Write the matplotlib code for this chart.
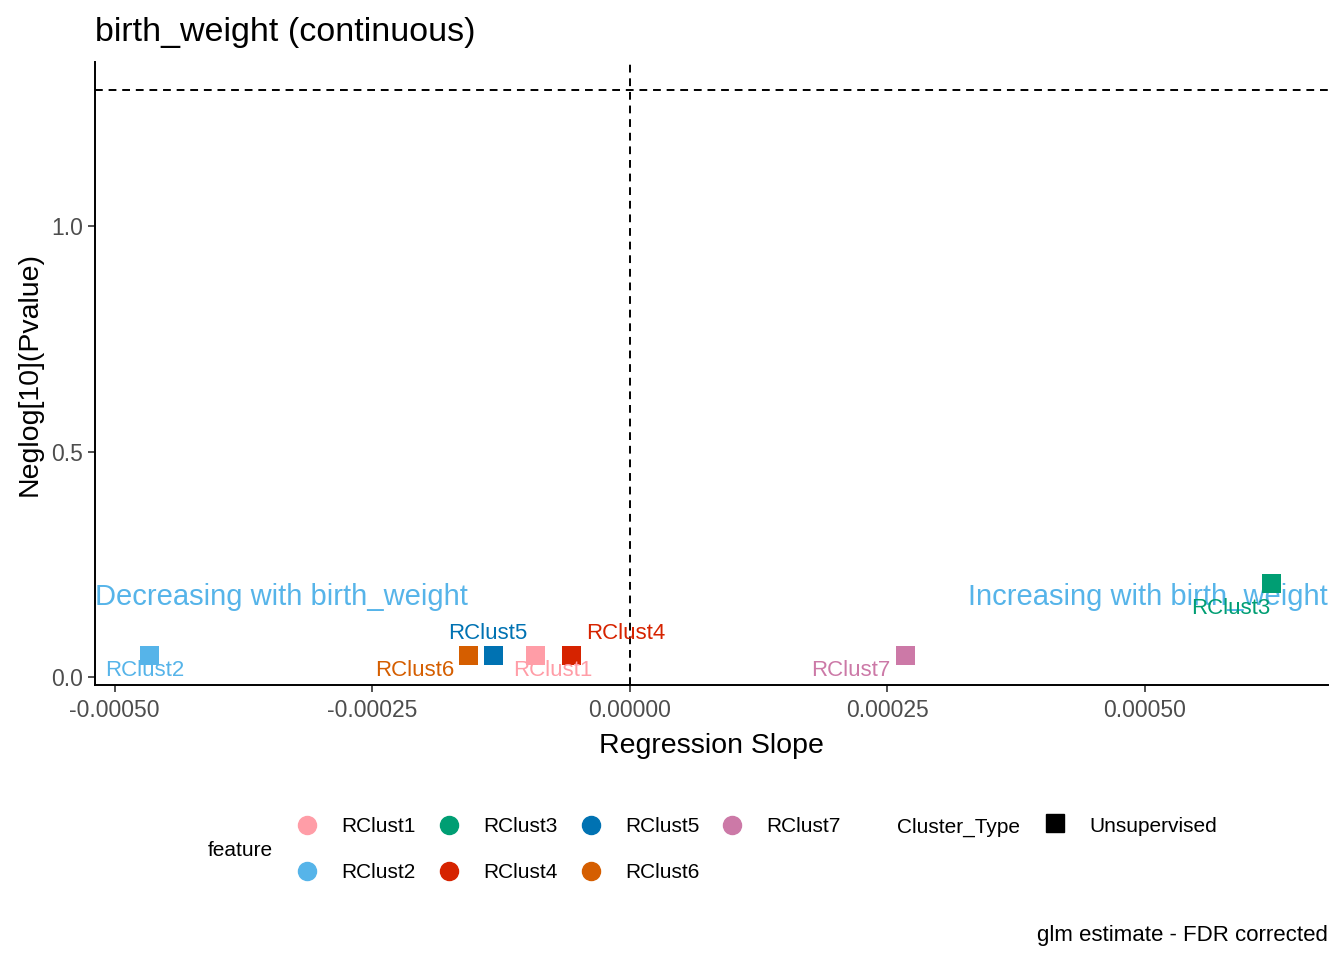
import matplotlib
matplotlib.use("Agg")
import matplotlib.pyplot as plt
from matplotlib.lines import Line2D
import numpy as np

plt.rcParams['font.family'] = ['Liberation Sans', 'DejaVu Sans']

# data
features = ['RClust1', 'RClust2', 'RClust3', 'RClust4', 'RClust5', 'RClust6', 'RClust7']
slope = [-0.0000913, -0.000466, 0.000623, -0.0000563, -0.000132, -0.000156, 0.000268]
neglogp = [0.047, 0.047, 0.208, 0.047, 0.047, 0.047, 0.047]
colors = ['#FF9DA7', '#56B4E9', '#009E73', '#D62300', '#0072B2', '#D55E00', '#CC79A7']
# label offsets (repel-ish), in data units
label_dx = [0.000017, -0.000005, -0.000039, 0.000053, -0.000006, -0.000053, -0.000053]
label_dy = [-0.032, -0.032, -0.057, 0.050, 0.050, -0.032, -0.032]

sig_line = -np.log10(0.05)
xlim = (-0.000519, 0.000678)
ylim = (-0.0177, 1.364)

fig = plt.figure(figsize=(13.44, 9.6), dpi=100)
ax = fig.add_axes([95 / 1344, 1 - 685 / 960, (1328 - 95) / 1344, (685 - 62) / 960])

ax.axhline(sig_line, color='black', lw=1.4, ls=(0, (4, 3)), zorder=1)
ax.axvline(0, color='black', lw=1.4, ls=(0, (4, 3)), zorder=1)

for i, f in enumerate(features):
    ax.scatter(slope[i], neglogp[i], marker='s', s=190, color=colors[i],
               edgecolors='none', zorder=3)
    ax.text(slope[i] + label_dx[i], neglogp[i] + label_dy[i], f, color=colors[i],
            fontsize=16, ha='center', va='center', zorder=4)

ax.text(xlim[0], 0.177, 'Decreasing with birth_weight', color='#56B4E9',
        fontsize=21, ha='left', va='center', zorder=2)
ax.text(xlim[1], 0.177, 'Increasing with birth_weight', color='#56B4E9',
        fontsize=21, ha='right', va='center', zorder=2)

ax.set_xlim(*xlim)
ax.set_ylim(*ylim)
ax.set_xticks([-0.0005, -0.00025, 0.0, 0.00025, 0.0005])
ax.set_xticklabels(['-0.00050', '-0.00025', '0.00000', '0.00025', '0.00050'])
ax.set_yticks([0.0, 0.5, 1.0])
ax.set_yticklabels(['0.0', '0.5', '1.0'])
ax.tick_params(axis='both', labelsize=16.5, labelcolor='#4D4D4D', color='#333333',
               length=5, width=1.2)
ax.tick_params(axis='x', pad=5)
for s in ['top', 'right']:
    ax.spines[s].set_visible(False)
for s in ['left', 'bottom']:
    ax.spines[s].set_linewidth(1.4)
ax.set_xlabel('Regression Slope', fontsize=20.5, labelpad=8)
ax.set_ylabel('Neglog[10](Pvalue)', fontsize=20.5, labelpad=6)

fig.text(95 / 1344, 1 - 32 / 960, 'birth_weight (continuous)', fontsize=24.5,
         ha='left', va='center')
fig.text(1328 / 1344, 1 - 935 / 960, 'glm estimate - FDR corrected', fontsize=16,
         ha='right', va='center')

# legend, laid out like ggplot's bottom legend
fig.text(208 / 1344, 1 - 851 / 960, 'feature', fontsize=15, ha='left', va='center')
col_x = [307, 449, 591, 732]
row_y = [825, 871]
for i, f in enumerate(features):
    cx = col_x[i // 2]
    cy = row_y[i % 2]
    fig.add_artist(Line2D([cx / 1344], [1 - cy / 960], marker='o', ms=13,
                          color=colors[i], lw=0, transform=fig.transFigure))
    fig.text((cx + 34) / 1344, 1 - (cy + 2) / 960, f, fontsize=15, ha='left', va='center')
fig.text(897 / 1344, 1 - 827 / 960, 'Cluster_Type', fontsize=15, ha='left', va='center')
fig.add_artist(Line2D([1055 / 1344], [1 - 823 / 960], marker='s', ms=13,
                      color='black', lw=0, transform=fig.transFigure))
fig.text(1089 / 1344, 1 - 827 / 960, 'Unsupervised', fontsize=15, ha='left', va='center')

fig.savefig('out.png', dpi=100)
